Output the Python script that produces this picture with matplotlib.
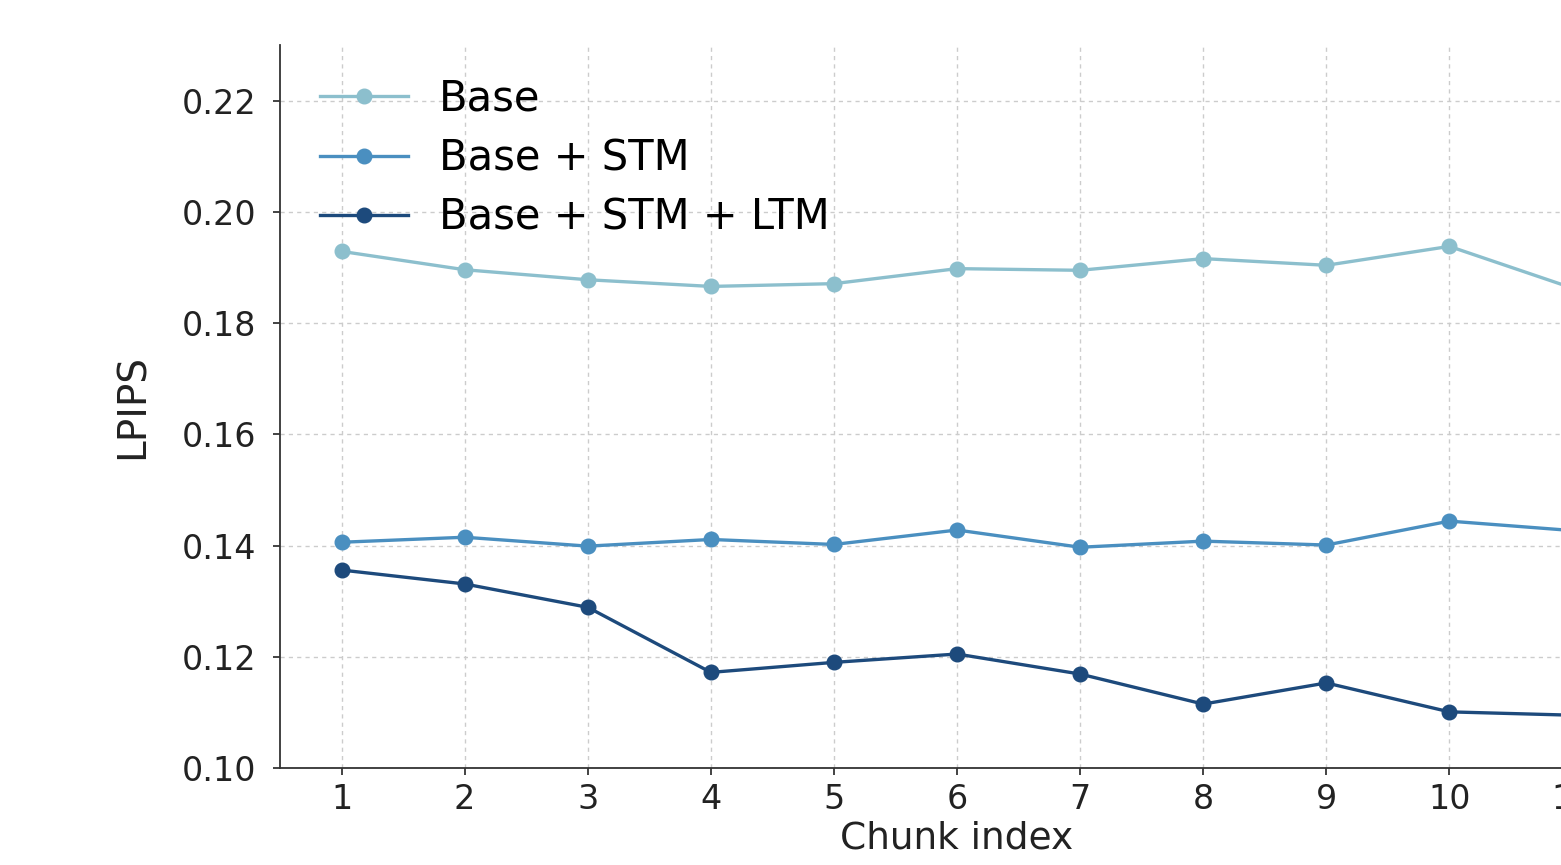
import matplotlib
matplotlib.use("Agg")
import matplotlib.pyplot as plt
import numpy as np

# chunk indices and LPIPS per variant
chunks = np.arange(1, 12)
base = [0.1929, 0.1896, 0.1878, 0.1866, 0.1871, 0.1898, 0.1895, 0.1916, 0.1904, 0.1938, 0.1863]
base_stm = [0.1406, 0.1415, 0.1399, 0.1411, 0.1402, 0.1428, 0.1397, 0.1408, 0.1401, 0.1444, 0.1427]
base_stm_ltm = [0.1356, 0.1331, 0.1289, 0.1172, 0.1190, 0.1205, 0.1169, 0.1115, 0.1153, 0.1101, 0.1095]

labels = ["Base", "Base + STM", "Base + STM + LTM"]
colors = ["#8cbfcd", "#4a8fc0", "#1d4a7c"]
yticks = [0.10, 0.12, 0.14, 0.16, 0.18, 0.20, 0.22]

fig = plt.figure(figsize=(15.61, 8.65), dpi=100)
# the reference is a crop of a larger figure: axes run past the right edge
ax = fig.add_axes([0.1794, 0.1121, 0.8674, 0.8358])

for vals, lab, c in zip([base, base_stm, base_stm_ltm], labels, colors):
    ax.plot(chunks, vals, marker="o", color=c, label=lab, linewidth=2.4, markersize=10.5)

ax.set_xlim(0.5, 11.5)
ax.set_ylim(0.10, 0.23)
ax.set_xticks(chunks)
ax.set_yticks(yticks)
ax.yaxis.set_major_formatter(plt.FormatStrFormatter('%.2f'))
ax.tick_params(labelsize=24, length=5, width=1.2, colors="#222222")
ax.tick_params(axis="y", pad=12)
ax.tick_params(axis="x", pad=6)
ax.grid(True, linestyle=(0, (3, 3)), color="#cccccc", linewidth=1.0)
ax.set_axisbelow(True)
ax.spines["top"].set_visible(False)
ax.spines["right"].set_visible(False)
for s in ["left", "bottom"]:
    ax.spines[s].set_linewidth(1.3)
    ax.spines[s].set_color("#333333")

ax.set_xlabel("Chunk index", fontsize=27, color="#222222", labelpad=3)
ax.set_ylabel("LPIPS", fontsize=28, color="#222222", labelpad=22)

ax.legend(loc="upper left", frameon=False, fontsize=30, handlelength=2.1,
          handletextpad=0.75, borderaxespad=0.3, labelspacing=0.42,
          bbox_to_anchor=(0.008, 0.995))

fig.savefig("out.png", dpi=100)
